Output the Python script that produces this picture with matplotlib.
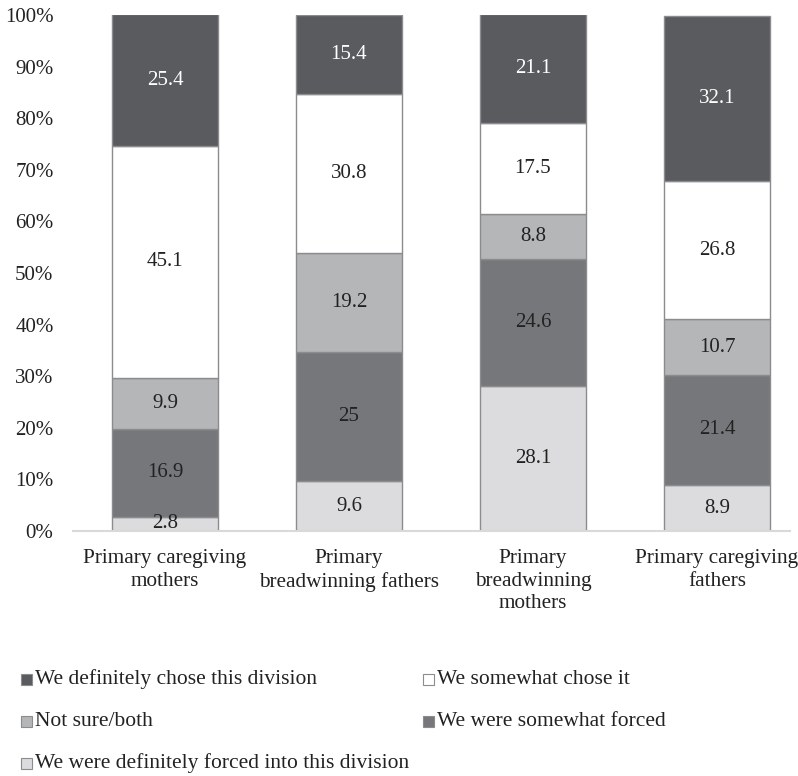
import matplotlib

matplotlib.use("Agg")

import matplotlib.pyplot as plt
from matplotlib.patches import Rectangle

plt.rcParams["font.family"] = ["Liberation Serif", "DejaVu Serif"]

categories = [
    "Primary caregiving\nmothers",
    "Primary\nbreadwinning fathers",
    "Primary\nbreadwinning\nmothers",
    "Primary caregiving\nfathers",
]
series_names = [
    "We were definitely forced into this division",
    "We were somewhat forced",
    "Not sure/both",
    "We somewhat chose it",
    "We definitely chose this division",
]
def_forced = [2.8, 9.6, 28.1, 8.9]
some_forced = [16.9, 25, 24.6, 21.4]
not_sure = [9.9, 19.2, 8.8, 10.7]
some_chose = [45.1, 30.8, 17.5, 26.8]
def_chose = [25.4, 15.4, 21.1, 32.1]
series = [def_forced, some_forced, not_sure, some_chose, def_chose]
colors = ["#dcdcde", "#76777a", "#b5b6b8", "#ffffff", "#5a5b5e"]
text_colors = ["#222222", "#222222", "#222222", "#222222", "#ffffff"]

fig = plt.figure(figsize=(7.98, 7.76), dpi=100)
ax = fig.add_axes([73 / 798, 1 - 531 / 776, (790 - 73) / 798, (531 - 15) / 776])

x = range(len(categories))
bottom = [0.0] * len(categories)
for vals, color, tcol in zip(series, colors, text_colors):
    ax.bar(x, vals, bottom=bottom, width=0.576, color=color,
           edgecolor="#8c8c8e", linewidth=1.0)
    for i, v in enumerate(vals):
        y = bottom[i] + v / 2
        ax.text(i, y, f"{v:g}", ha="center", va="center", fontsize=15, color=tcol)
    bottom = [b + v for b, v in zip(bottom, vals)]

ax.set_ylim(0, 100)
ax.set_xlim(-0.5, 3.397)
ax.set_yticks(range(0, 101, 10))
ax.set_yticklabels([f"{t}%" for t in range(0, 101, 10)], fontsize=15, color="#222222")
ax.set_xticks(list(x))
ax.set_xticklabels(categories, fontsize=15.3, linespacing=1.25, color="#222222")
ax.tick_params(length=0)
ax.tick_params(axis="x", pad=13)
ax.tick_params(axis="y", pad=14)
for side in ["top", "right", "left"]:
    ax.spines[side].set_visible(False)
ax.spines["bottom"].set_color("#d9d9d9")
ax.spines["bottom"].set_linewidth(1.5)

# legend drawn by hand: two columns, three rows
legend_items = [
    (4, 21, 679), (3, 423, 679),
    (2, 21, 721), (1, 423, 721),
    (0, 21, 763),
]
W, H = 798.0, 776.0
for k, px, py in legend_items:
    fig.patches.append(Rectangle((px / W, 1 - (py + 5.5) / H), 11 / W, 11 / H,
                                 transform=fig.transFigure, facecolor=colors[k],
                                 edgecolor="#8c8c8e", linewidth=0.8))
    fig.text((px + 14) / W, 1 - py / H, series_names[k], fontsize=15.5,
             va="center", ha="left", color="#222222")

fig.savefig("out.png", dpi=100)
